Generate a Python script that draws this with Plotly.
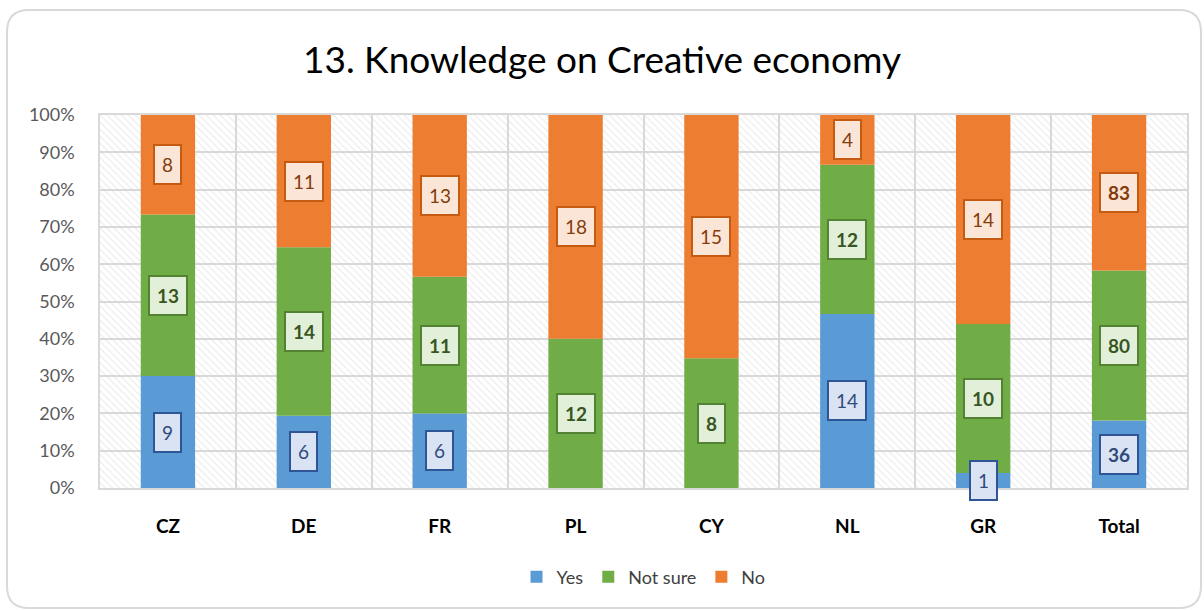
import plotly.graph_objects as go

# Survey answers per country (counts of respondents)
categories = ["CZ", "DE", "FR", "PL", "CY", "NL", "GR", "Total"]
yes_counts = [9, 6, 6, 0, 0, 14, 1, 36]
not_sure_counts = [13, 14, 11, 12, 8, 12, 10, 80]
no_counts = [8, 11, 13, 18, 15, 4, 14, 83]
y_tick_values = [0, 10, 20, 30, 40, 50, 60, 70, 80, 90, 100]
y_tick_labels = [f"{v}%" for v in y_tick_values]

series = [
    ("Yes", yes_counts, "#5B9BD5", "#DAE3F3", "#2F5597", "#2F4B7C"),
    ("Not sure", not_sure_counts, "#70AD47", "#E2F0D9", "#548235", "#375623"),
    ("No", no_counts, "#ED7D31", "#FBE5D6", "#C55A11", "#843C0C"),
]

W, H = 1204, 610
M_L, M_R, M_T, M_B = 100, 17, 115, 122
PW, PH = W - M_L - M_R, H - M_T - M_B
FONT = "Lato, 'Noto Sans', sans-serif"


def px_x(px):
    return (px - M_L) / PW


def px_y(py):
    return (H - M_B - py) / PH


totals = [a + b + c for a, b, c in zip(yes_counts, not_sure_counts, no_counts)]

fig = go.Figure()

# hatched background filling every category slot
fig.add_trace(go.Bar(
    x=categories, y=[100] * len(categories), width=1.0,
    marker=dict(color="rgba(0,0,0,0)", line=dict(width=0),
                pattern=dict(shape="\\", fgcolor="#D0D0D0", bgcolor="rgba(255,255,255,0)",
                             size=5, solidity=0.2)),
    showlegend=False, hoverinfo="skip",
))

annotations = []
bases = [0.0] * len(categories)
for name, counts, color, box_bg, box_line, txt_color in series:
    pct = [100.0 * c / t for c, t in zip(counts, totals)]
    fig.add_trace(go.Bar(
        x=categories, y=pct, base=list(bases), name=name, width=0.4,
        marker=dict(color=color, line=dict(width=0)),
    ))
    for i, (cat, c, p) in enumerate(zip(categories, counts, pct)):
        if c == 0:
            continue
        bold = name == "Not sure" or cat == "Total"
        annotations.append(dict(
            x=cat, y=bases[i] + p / 2, xref="x", yref="y",
            text=f"<b>{c}</b>" if bold else str(c), showarrow=False,
            font=dict(family=FONT, size=19, color=txt_color),
            bgcolor=box_bg, bordercolor=box_line, borderwidth=2, borderpad=7,
        ))
    bases = [b + p for b, p in zip(bases, pct)]

# rounded outer frame of the chart
x0, x1 = px_x(7), px_x(1201)
y0, y1 = px_y(608), px_y(10)
rx, ry = 22 / PW, 22 / PH
frame = (f"M {x0 + rx} {y1} L {x1 - rx} {y1} Q {x1} {y1} {x1} {y1 - ry} "
         f"L {x1} {y0 + ry} Q {x1} {y0} {x1 - rx} {y0} "
         f"L {x0 + rx} {y0} Q {x0} {y0} {x0} {y0 + ry} "
         f"L {x0} {y1 - ry} Q {x0} {y1} {x0 + rx} {y1} Z")

fig.update_layout(
    width=W, height=H,
    margin=dict(l=M_L, r=M_R, t=M_T, b=M_B),
    paper_bgcolor="white", plot_bgcolor="white",
    barmode="overlay",
    font=dict(family=FONT, color="#404040"),
    title=dict(text="13. Knowledge on Creative economy", x=0.5, xanchor="center",
               y=1 - 60 / H, yanchor="middle",
               font=dict(size=37, color="#000000")),
    legend=dict(orientation="h", x=0.5, xanchor="center", y=px_y(577), yanchor="middle",
                font=dict(size=18, color="#404040"), traceorder="normal",
                itemwidth=30),
    annotations=annotations,
    shapes=[dict(type="path", xref="paper", yref="paper", path=frame,
                 line=dict(color="#D9D9D9", width=2), fillcolor="rgba(0,0,0,0)",
                 layer="below")],
    xaxis=dict(
        tickson="boundaries", showgrid=True, gridcolor="#D9D9D9", gridwidth=1.5,
        ticks="", showline=True, linecolor="#D9D9D9", linewidth=1.5, mirror=True,
        tickfont=dict(size=19, color="#000000", family=FONT),
        ticklabelstandoff=20,
        tickmode="array", tickvals=categories,
        ticktext=[f"<b>{c}</b>" for c in categories],
    ),
    yaxis=dict(
        range=[0, 100], tickmode="array", tickvals=y_tick_values, ticktext=y_tick_labels,
        showgrid=True, gridcolor="#D9D9D9", gridwidth=1.5,
        showline=True, linecolor="#D9D9D9", linewidth=1.5, mirror=True,
        zeroline=False, ticks="",
        tickfont=dict(size=18, color="#595959"), ticklabelstandoff=20,
    ),
)

fig.write_html("out.html")
